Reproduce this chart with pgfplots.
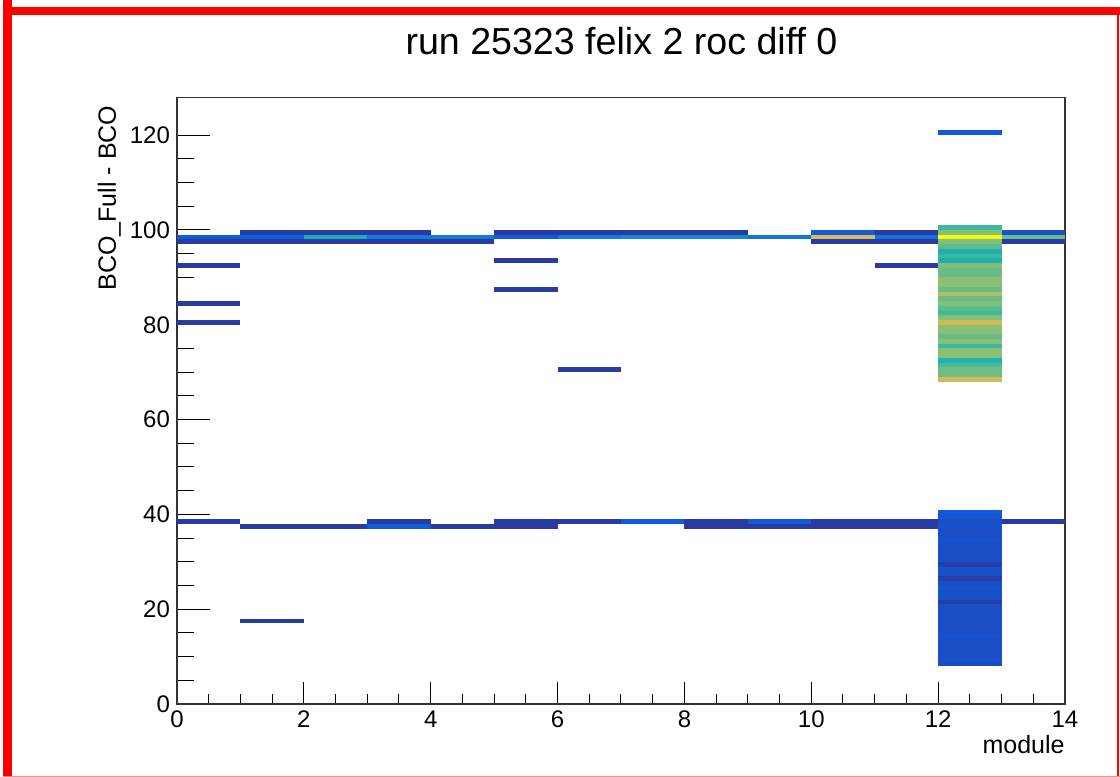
\documentclass[border=0pt]{standalone}
\usepackage{fontspec}
\setmainfont{Liberation Sans}
\usepackage{pgfplots}
\usepackage{pgfplotstable}
\pgfplotsset{compat=1.18}
\pgfplotsset{colormap={bird}{rgb=(0.2082,0.1664,0.5293) rgb=(0.0592,0.3599,0.8684) rgb=(0.0780,0.5041,0.8385) rgb=(0.0232,0.6419,0.7914) rgb=(0.1802,0.7178,0.6425) rgb=(0.5301,0.7492,0.4662) rgb=(0.8186,0.7328,0.3499) rgb=(0.9956,0.7862,0.1968) rgb=(0.9764,0.9832,0.0539)}}
% one cell = 1 module x 1 BCO unit
\pgfdeclareplotmark{cell}{\pgfpathrectangle{\pgfpointorigin}{\pgfpoint{31.714pt}{2.37pt}}\pgfusepathqfill}
% module  bco(lower edge)  colour value
\pgfplotstableread{
m v c
0 98 0.13
0 97 0.04
0 92 0.04
0 84 0.04
0 80 0.04
0 38 0.04
1 99 0.04
1 98 0.13
1 97 0.04
1 37 0.04
1 17 0.04
2 99 0.04
2 98 0.44
2 97 0.04
2 37 0.04
3 99 0.04
3 98 0.23
3 97 0.04
3 38 0.04
3 37 0.13
4 98 0.23
4 97 0.04
4 37 0.04
5 99 0.04
5 98 0.12
5 93 0.04
5 87 0.04
5 38 0.04
5 37 0.04
6 99 0.04
6 98 0.24
6 70 0.04
6 38 0.04
7 99 0.04
7 98 0.28
7 38 0.12
8 99 0.04
8 98 0.28
8 38 0.04
8 37 0.04
9 98 0.21
9 38 0.12
9 37 0.04
10 99 0.12
10 98 0.77
10 97 0.04
10 38 0.04
10 37 0.04
11 99 0.04
11 98 0.20
11 97 0.04
11 92 0.04
11 38 0.04
11 37 0.04
12 120 0.11
12 100 0.52
12 99 0.62
12 98 1.00
12 97 0.62
12 96 0.57
12 95 0.45
12 94 0.52
12 93 0.45
12 92 0.62
12 91 0.58
12 90 0.58
12 89 0.63
12 88 0.63
12 87 0.58
12 86 0.70
12 85 0.58
12 84 0.62
12 83 0.57
12 82 0.52
12 81 0.62
12 80 0.75
12 79 0.63
12 78 0.63
12 77 0.58
12 76 0.63
12 75 0.52
12 74 0.63
12 73 0.63
12 72 0.46
12 71 0.54
12 70 0.59
12 69 0.59
12 68 0.75
12 40 0.12
12 39 0.11
12 38 0.09
12 37 0.10
12 36 0.09
12 35 0.09
12 34 0.10
12 33 0.09
12 32 0.09
12 31 0.09
12 30 0.09
12 29 0.05
12 28 0.10
12 27 0.09
12 26 0.05
12 25 0.09
12 24 0.10
12 23 0.09
12 22 0.10
12 21 0.05
12 20 0.09
12 19 0.09
12 18 0.09
12 17 0.09
12 16 0.09
12 15 0.09
12 14 0.10
12 13 0.09
12 12 0.09
12 11 0.09
12 10 0.09
12 9 0.10
12 8 0.09
13 99 0.10
13 98 0.58
13 97 0.04
13 38 0.04
}\cells
\begin{document}
\begin{tikzpicture}
\useasboundingbox (-88.5pt,-36.5pt) rectangle (471.5pt,352pt);
\begin{axis}[
  at={(0,0)}, anchor=south west,
  x=31.714pt, y=2.37pt,
  xmin=0, xmax=14, ymin=0, ymax=128,
  colormap name=bird, point meta min=0, point meta max=1,
  axis line style={line width=0.6pt, black!80},
  tick align=inside, tick pos=left,
  xtick={0,2,...,14}, ytick={0,20,...,120},
  minor x tick num=3, minor y tick num=3,
  xtick style={/pgfplots/major tick length=11pt, /pgfplots/minor tick length=5pt, line width=0.5pt, black},
  ytick style={/pgfplots/major tick length=16.5pt, /pgfplots/minor tick length=8.5pt, line width=0.5pt, black},
  tick label style={font=\fontsize{12}{14}\selectfont},
  /pgf/number format/assume math mode=true,
  xlabel={module}, ylabel={BCO\_Full - BCO},
  every axis x label/.style={at={(rel axis cs:1,0)}, anchor=base east, yshift=-24.5pt, inner sep=0pt, font=\fontsize{12.5}{15}\selectfont},
  every axis y label/.style={at={(rel axis cs:0,1)}, xshift=-30.5pt, yshift=-4pt, rotate=90, anchor=base east, inner sep=0pt, font=\fontsize{12.5}{15}\selectfont},
]
\addplot[scatter, only marks, mark=cell, point meta=explicit,
  scatter/use mapped color={draw=none, fill=mapped color}]
  table[x=m, y=v, meta=c] {\cells};
\end{axis}
\node[anchor=base, font=\fontsize{18.8}{22}\selectfont] at (222.25pt,324.5pt) {run 25323 felix 2 roc diff 0};
\fill[red] (-86.85pt,-36.5pt) rectangle (-82.35pt,352pt);
\fill[red] (-86.85pt,344.5pt) rectangle (471.5pt,348.5pt);
\fill[red] (469.8pt,-36.5pt) rectangle (471pt,348.5pt);
\fill[red!45] (-86.85pt,-36.5pt) rectangle (471.5pt,-35.8pt);
\end{tikzpicture}
\end{document}
